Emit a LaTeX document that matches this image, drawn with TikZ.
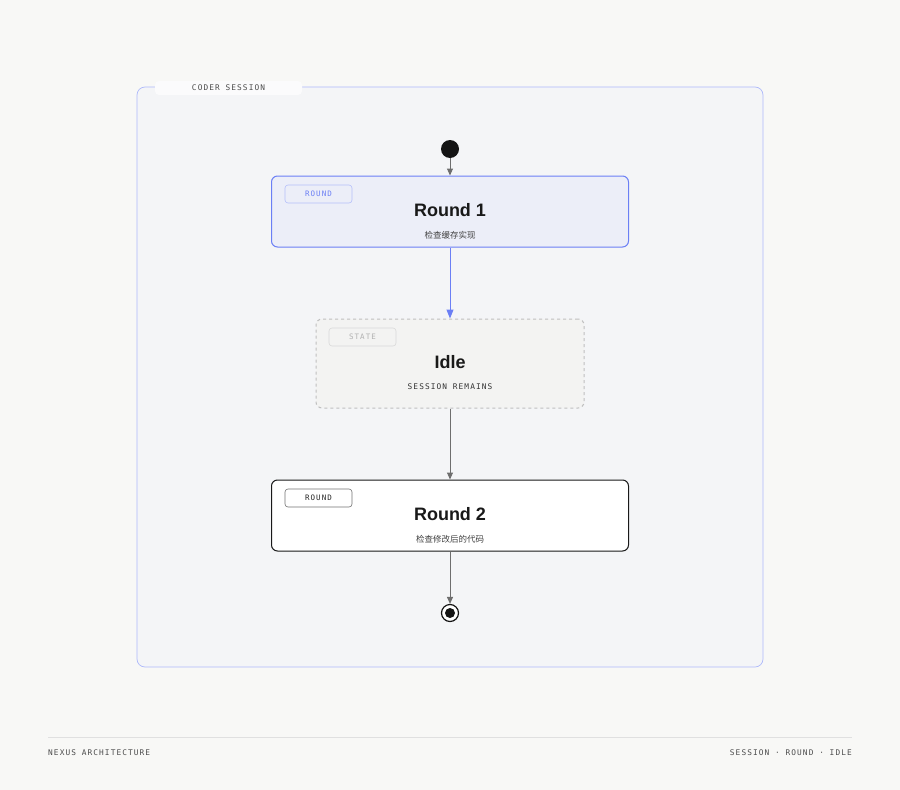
\documentclass[tikz,border=0pt]{standalone}
\usepackage{fontspec}
\setmainfont{Liberation Sans}
\setmonofont{DejaVu Sans Mono}
\newfontfamily\spacedmono[LetterSpace=14]{DejaVu Sans Mono}
\newfontfamily\cjk{Noto Sans CJK SC}
\usetikzlibrary{arrows.meta}
\definecolor{pagebg}{HTML}{F8F8F6}
\definecolor{groupbg}{HTML}{F4F5F7}
\definecolor{accent}{HTML}{6B7FF5}
\definecolor{accentbg}{HTML}{ECEEF8}
\definecolor{idlebg}{HTML}{F3F3F2}
\definecolor{edge}{HTML}{6E6E6E}
\tikzset{
  state/.style={draw, rounded corners=6pt, line width=1pt, minimum width=357pt, minimum height=71pt, inner sep=0pt},
  tag/.style={draw, rounded corners=3pt, line width=0.6pt, minimum width=67pt, minimum height=18pt, inner sep=0pt, font=\spacedmono\fontsize{7.5}{9}\selectfont},
  title/.style={font=\fontsize{18}{20}\selectfont\bfseries, text=black!90},
  sub/.style={font=\fontsize{8.5}{10}\selectfont, text=black!75},
  mono/.style={font=\spacedmono\fontsize{7.8}{9}\selectfont, text=black!70},
  flow/.style={-{Triangle[length=7pt,width=6pt]}, line width=1pt, draw=edge},
}
\begin{document}
\begin{tikzpicture}[x=1pt,y=-1pt]
  \fill[pagebg] (0,0) rectangle (900,790);
  \useasboundingbox (0,0) rectangle (900,790);
  % session frame
  \node[draw=accent!55, fill=groupbg, rounded corners=8pt, line width=0.7pt, minimum width=626pt, minimum height=580pt, inner sep=0pt] (session) at (450,377) {};
  \node[fill=groupbg!40!white, rounded corners=4pt, minimum width=147pt, minimum height=14pt, inner sep=0pt, mono] (sessionlbl) at (228.5,88) {CODER SESSION};
  % states
  \node[circle, fill=black!92, minimum size=18pt, inner sep=0pt] (start) at (450,149) {};
  \node[state, draw=accent, fill=accentbg] (round1) at (450,211.5) {};
  \node[tag, draw=accent!50, fill=accentbg, text=accent] (tag1) at (318.5,194) {ROUND};
  \node[title] (t1) at (450,210) {Round 1};
  \node[sub] (s1) at (450,235) {\cjk 检查缓存实现};
  \node[state, dashed, draw=black!25, fill=idlebg, minimum width=268pt, minimum height=89pt] (idle) at (450,363.5) {};
  \node[tag, draw=black!15, fill=idlebg, text=black!30] (tag2) at (362.5,337) {STATE};
  \node[title] (t2) at (450,362) {Idle};
  \node[mono, text=black!80] (s2) at (450,387) {SESSION REMAINS};
  \node[state, draw=black!90, fill=white] (round2) at (450,515.5) {};
  \node[tag, draw=black!55, fill=white, text=black!85] (tag3) at (318.5,498) {ROUND};
  \node[title] (t3) at (450,514) {Round 2};
  \node[sub] (s3) at (450,539) {\cjk 检查修改后的代码};
  \node[circle, draw=black!92, line width=1.2pt, fill=white, minimum size=17pt, inner sep=0pt] (stop) at (450,613) {};
  \node[circle, fill=black!92, minimum size=10pt, inner sep=0pt] (stopdot) at (stop) {};
  % transitions
  \draw[flow] (start) -- (round1);
  \draw[flow, draw=accent, -{Triangle[length=9pt,width=7pt]}] (round1) -- (idle);
  \draw[flow] (idle) -- (round2);
  \draw[flow] (round2) -- (stop);
  % footer
  \coordinate (fl) at (48,737);
  \coordinate (fr) at (852,737);
  \draw[black!12, line width=0.6pt] (fl) -- (fr);
  \node[anchor=west, inner sep=0pt, mono] (footl) at (48,753) {NEXUS ARCHITECTURE};
  \node[anchor=east, inner sep=0pt, mono] (footr) at (852,753) {SESSION · ROUND · IDLE};
\end{tikzpicture}
\end{document}
